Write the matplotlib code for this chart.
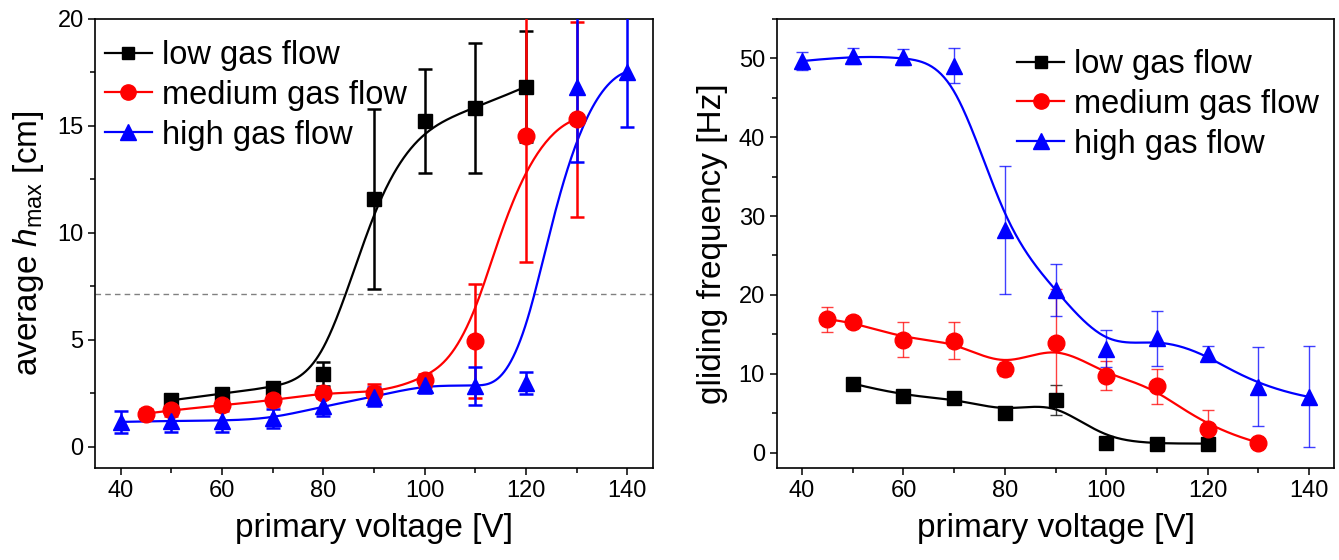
import numpy as np
import matplotlib
matplotlib.use("Agg")
import matplotlib.pyplot as plt
from matplotlib.ticker import MultipleLocator

plt.rcParams["font.family"] = ["Liberation Sans", "DejaVu Sans"]
plt.rcParams["mathtext.fontset"] = "custom"
plt.rcParams["mathtext.rm"] = "Liberation Sans"
plt.rcParams["mathtext.it"] = "Liberation Sans:italic"

# ---- data: average maximum height ----
h_low_v = [50, 60, 70, 80, 90, 100, 110, 120]
h_low = [2.18, 2.49, 2.76, 3.40, 11.57, 15.23, 15.82, 16.84]
h_low_err = [0.25, 0.25, 0.25, 0.55, 4.2, 2.43, 3.04, 2.6]

h_med_v = [45, 50, 60, 70, 80, 90, 100, 110, 120, 130]
h_med = [1.56, 1.71, 1.95, 2.18, 2.53, 2.53, 3.12, 4.96, 14.54, 15.32]
h_med_err = [0.2, 0.25, 0.25, 0.25, 0.25, 0.4, 0.3, 2.67, 5.9, 4.56]

h_high_v = [40, 50, 60, 70, 80, 90, 100, 110, 120, 130, 140]
h_high = [1.17, 1.22, 1.22, 1.33, 1.90, 2.34, 2.90, 2.84, 2.99, 16.80, 17.54]
h_high_err = [0.5, 0.5, 0.5, 0.45, 0.45, 0.45, 0.4, 0.9, 0.5, 3.5, 2.6]

threshold_h = 7.14

# ---- data: gliding frequency ----
f_low_v = [50, 60, 70, 80, 90, 100, 110, 120]
f_low = [8.76, 7.15, 6.98, 5.08, 6.64, 1.23, 1.14, 1.14]
f_low_err = [0.4, 0.4, 0.4, 0.4, 1.9, 0.3, 0.3, 0.3]

f_med_v = [45, 50, 60, 70, 80, 90, 100, 110, 120, 130]
f_med = [16.9, 16.58, 14.34, 14.17, 10.58, 13.96, 9.73, 8.42, 3.05, 1.27]
f_med_err = [1.6, 0.5, 2.2, 2.35, 0.9, 6.8, 1.85, 2.2, 2.3, 0.3]

f_high_v = [40, 50, 60, 70, 80, 90, 100, 110, 120, 130, 140]
f_high = [49.66, 50.3, 50.2, 49.07, 28.2, 20.6, 13.2, 14.47, 12.56, 8.33, 7.06]
f_high_err = [1.1, 1.0, 1.0, 2.2, 8.1, 3.3, 2.3, 3.5, 1.0, 5.0, 6.4]

labels = ["low gas flow", "medium gas flow", "high gas flow"]
colors = ["black", "red", "blue"]
markers = ["s", "o", "^"]
msizes = [10, 12, 12]
legend_msizes = [8, 11, 12]


def bspline(xs, ys, n=400):
    """Clamped cubic B-spline using the data points as control points."""
    P = np.column_stack([xs, ys]).astype(float)
    m = len(P)
    k = 3
    inner = np.arange(1, m - k)
    t = np.concatenate([np.zeros(k + 1), inner, np.full(k + 1, m - k)]).astype(float)
    u = np.linspace(0, m - k, n)
    u[-1] -= 1e-9

    def basis(i, p, uu):
        if p == 0:
            return np.where((t[i] <= uu) & (uu < t[i + 1]), 1.0, 0.0)
        a = np.zeros_like(uu)
        d1 = t[i + p] - t[i]
        if d1 > 0:
            a += (uu - t[i]) / d1 * basis(i, p - 1, uu)
        d2 = t[i + p + 1] - t[i + 1]
        if d2 > 0:
            a += (t[i + p + 1] - uu) / d2 * basis(i + 1, p - 1, uu)
        return a

    B = np.array([basis(i, k, u) for i in range(m)])
    C = B.T @ P
    return C[:, 0], C[:, 1]


fig = plt.figure(figsize=(13.39, 5.6), dpi=100)
ax1 = fig.add_axes([0.0713, 0.1637, 0.4161, 0.8024])
ax2 = fig.add_axes([0.5801, 0.1637, 0.4164, 0.8024])


def draw(ax, series, err_style):
    handles = []
    for (xv, yv, ev), c, mk, ms, lms in zip(series, colors, markers, msizes, legend_msizes):
        cx, cy = bspline(xv, yv)
        ax.plot(cx, cy, color=c, lw=1.6, zorder=2)
        ax.errorbar(xv, yv, yerr=ev, fmt="none", ecolor=c, zorder=3, **err_style)
        ax.plot(xv, yv, ls="none", marker=mk, ms=ms, color=c, mec=c, zorder=4)
        h, = ax.plot([], [], color=c, lw=1.6, marker=mk, ms=lms, mec=c)
        handles.append(h)
    return handles


def style(ax):
    for s in ax.spines.values():
        s.set_linewidth(1.2)
    ax.tick_params(which="both", direction="out", labelsize=17, width=1.1)
    ax.tick_params(which="major", length=5)
    ax.tick_params(which="minor", length=3.5)
    ax.xaxis.set_major_locator(MultipleLocator(20))
    ax.xaxis.set_minor_locator(MultipleLocator(10))
    ax.set_xlim(35, 145)
    ax.set_xlabel("primary voltage [V]", fontsize=24, labelpad=8)


legend_style = dict(loc="upper left", fontsize=23.5, frameon=False,
                    handlelength=1.44, handletextpad=0.3, labelspacing=0.27,
                    borderaxespad=0, borderpad=0)

# left panel
hs = draw(ax1,
          [(h_low_v, h_low, h_low_err), (h_med_v, h_med, h_med_err),
           (h_high_v, h_high, h_high_err)],
          dict(elinewidth=1.8, capsize=5, capthick=1.8))
ax1.axhline(threshold_h, color="gray", ls="--", lw=1.0, dashes=(4, 3), zorder=1)
style(ax1)
ax1.set_ylim(-1, 20)
ax1.yaxis.set_major_locator(MultipleLocator(5))
ax1.yaxis.set_minor_locator(MultipleLocator(2.5))
ax1.set_ylabel(r"average $\mathit{h}_{\mathregular{max}}$ [cm]", fontsize=24, labelpad=8)
ax1.legend(hs, labels, bbox_to_anchor=(0.017, 0.953), **legend_style)

# right panel
hs = draw(ax2,
          [(f_low_v, f_low, f_low_err), (f_med_v, f_med, f_med_err),
           (f_high_v, f_high, f_high_err)],
          dict(elinewidth=1.0, capsize=4, capthick=1.0, alpha=0.75))
style(ax2)
ax2.set_ylim(-2, 55)
ax2.yaxis.set_major_locator(MultipleLocator(10))
ax2.yaxis.set_minor_locator(MultipleLocator(5))
ax2.set_ylabel("gliding frequency [Hz]", fontsize=24, labelpad=8)
ax2.legend(hs, labels, bbox_to_anchor=(0.431, 0.933), **legend_style)

fig.savefig("out.png", dpi=100)
